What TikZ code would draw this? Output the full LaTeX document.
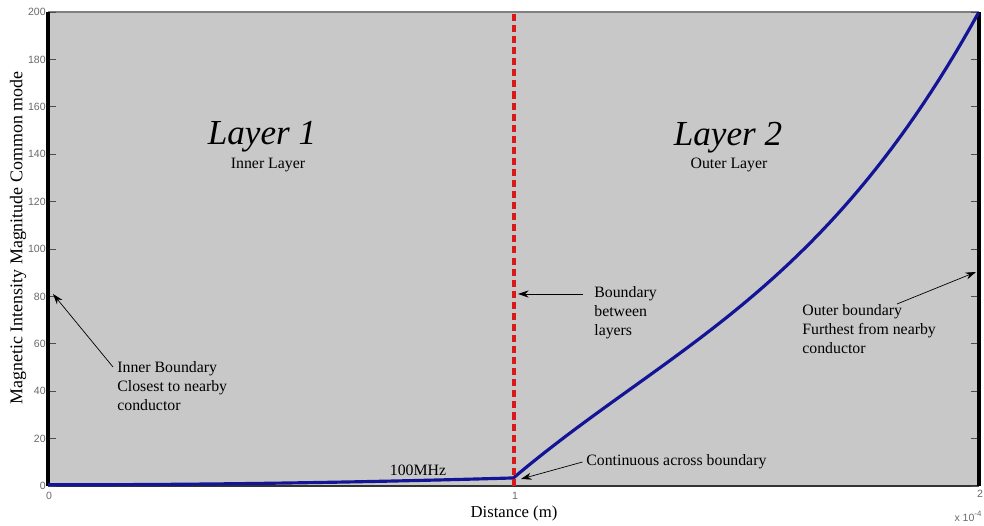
\documentclass[tikz,border=0pt]{standalone}
\usepackage{fontspec}
\setmainfont{Liberation Serif}
\newfontfamily\ticksans{Liberation Sans}
\usetikzlibrary{arrows.meta}

\definecolor{plotgrey}{RGB}{200,200,200}
\definecolor{curveblue}{RGB}{20,20,150}
\definecolor{boundred}{RGB}{215,25,25}
\definecolor{tickgrey}{RGB}{105,105,105}

\tikzset{
  note/.style={inner sep=0pt, align=left, font=\fontsize{9}{10.8}\selectfont},
  pointer/.style={-{Stealth[length=6pt,width=4pt]}, line width=0.4pt},
  ticklab/.style={inner sep=0pt, text=tickgrey, font=\ticksans\fontsize{6}{7}\selectfont},
  layername/.style={inner sep=0pt, font=\itshape\fontsize{20}{24}\selectfont},
}

\begin{document}
\begin{tikzpicture}[x=0.02cm, y=-0.02cm]
  \useasboundingbox (0,0) rectangle (984,526);

  % plot area and frame
  \fill[plotgrey] (48,12) rectangle (979,486);
  \draw[gray, line width=0.6pt] (48,12) -- (979,12);
  \draw[black!80, line width=0.6pt] (48,486) -- (979,486);

  % ticks and tick labels
  \foreach \v in {0,20,...,200} {
    \draw[black!70, line width=0.4pt] (48,486-2.37*\v) -- ++(8,0);
    \draw[black!70, line width=0.4pt] (979,486-2.37*\v) -- ++(-8,0);
    \node[ticklab, anchor=east] (ytick\v) at (46,486-2.37*\v) {\v};
  }
  \node[ticklab] (xtick0) at (49,496) {0};
  \node[ticklab] (xtick1) at (515,496) {1};
  \node[ticklab] (xtick2) at (980,494) {2};
  \node[ticklab] (xscale) at (968,516) {x 10\raisebox{3pt}{\fontsize{4.5}{5}\selectfont -4}};

  % thick side axes
  \draw[line width=2.4pt] (48,12) -- (48,486);
  \draw[line width=2.4pt] (979,12) -- (979,486);

  % field magnitude curve
  \begin{scope}[shift={(48,486)}, x=9.31cm, y=0.0474cm]
    \draw[curveblue, line width=1.8pt, line join=round]
      plot[domain=0:1, samples=30] (\x, {0.5+2.9*\x*\x})
      -- plot[domain=1:2, samples=60] (\x, {3.4+165.9*(\x-1)-98.6*(\x-1)^2+129.3*(\x-1)^3});
  \end{scope}

  % boundary between layers
  \draw[boundred, line width=2.8pt, dash pattern=on 4pt off 2.3pt] (514,14) -- (514,486);

  % layer names
  \node[layername] (layA) at (262,137) {Layer 1};
  \node[note] (layAsub) at (268,165) {Inner Layer};
  \node[layername] (layB) at (728,138) {Layer 2};
  \node[note] (layBsub) at (729,165) {Outer Layer};

  % annotations
  \node[note, anchor=north west] (innertxt) at (117,361) {Inner Boundary\\Closest to nearby\\conductor};
  \coordinate (innertip) at (53,294);
  \draw[pointer] ([shift={(-4,6)}]innertxt.north west) -- (innertip);

  \node[note, anchor=north west] (bndtxt) at (594,286) {Boundary\\between\\layers};
  \coordinate (bndtip) at (518,294);
  \draw[pointer] ([shift={(-11,8)}]bndtxt.north west) -- (bndtip);

  \node[note, anchor=west] (conttxt) at (586,462) {Continuous across boundary};
  \coordinate (conttip) at (521,479);
  \draw[pointer] ([xshift=-2]conttxt.west) -- (conttip);

  \node[note, anchor=north west] (outertxt) at (802,304) {Outer boundary\\Furthest from nearby\\conductor};
  \coordinate (outertip) at (976,272);
  \draw[pointer] ([shift={(95,0)}]outertxt.north west) -- (outertip);

  \node[note] (freq) at (418,470) {100MHz};

  % axis labels
  \node[inner sep=0pt, font=\fontsize{9.5}{11}\selectfont] (xlab) at (514,513) {Distance (m)};
  \node[inner sep=0pt, rotate=90, font=\fontsize{10.2}{12}\selectfont] (ylab) at (18,238) {Magnetic Intensity Magnitude Common mode};
\end{tikzpicture}
\end{document}
